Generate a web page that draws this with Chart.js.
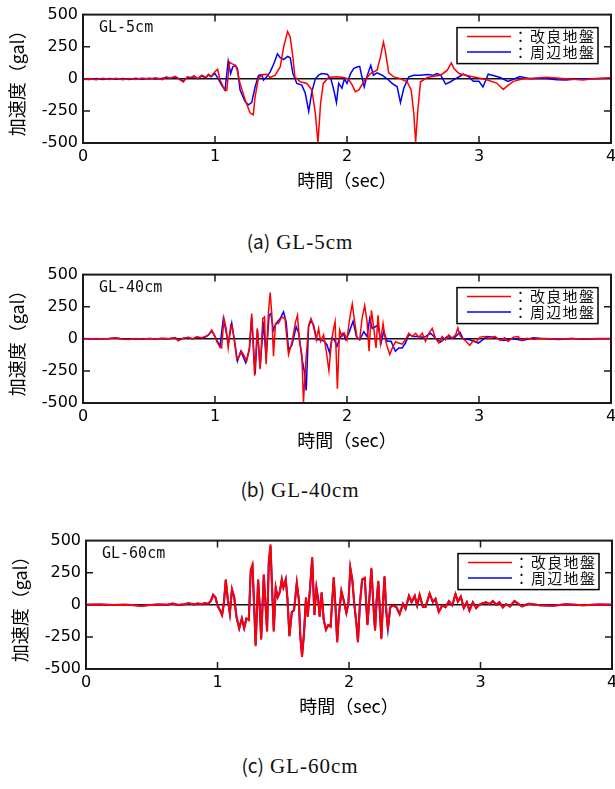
<!DOCTYPE html>
<html>
<head>
<meta charset="utf-8">
<script src="https://cdn.jsdelivr.net/npm/chart.js@4.4.0/dist/chart.umd.min.js"></script>
<style>
body { margin: 0; background: #fff; width: 615px; height: 789px; overflow: hidden; position: relative; }
.box { position: absolute; left: 0; width: 615px; height: 200px; overflow: hidden; }
.box canvas { position: absolute; left: 0; top: 0; }
.cap { position: absolute; left: 0; width: 600px; text-align: center; line-height: 24px;
       font-family: 'Liberation Serif', serif; font-size: 21px; letter-spacing: 1px; color: #111; }
.cap span { font-family: 'Noto Sans CJK JP', sans-serif; font-size: 19px; letter-spacing: 0; margin-right: 6px; }
</style>
</head>
<body>
<div class="box" style="top:0px"><canvas id="c1" width="625" height="200"></canvas></div>
<div class="cap" style="top:229px"><span>(a)</span>GL-5cm</div>
<div class="box" style="top:260px"><canvas id="c2" width="625" height="200"></canvas></div>
<div class="cap" style="top:477px"><span>(b)</span>GL-40cm</div>
<div class="box" style="top:526px"><canvas id="c3" width="625" height="200"></canvas></div>
<div class="cap" style="top:753px"><span>(c)</span>GL-60cm</div>
<script>
// time ticks (sec) and acceleration ticks (gal)
const timeTicks = [0, 1, 2, 3, 4];
const accelTicks = [-500, -250, 0, 250, 500];
const seriesNames = ['改良地盤', '周辺地盤'];
const xTitle = '時間（sec）';
const yTitle = '加速度（gal）';

// [time, acceleration]
const gl5Red = [[0,-5],[0.05,0],[0.1,-8],[0.15,4],[0.2,-6],[0.25,5],[0.3,-8],[0.35,3],[0.4,-5],[0.45,6],[0.5,-4],[0.55,8],[0.6,-6],[0.63,15],[0.66,5],[0.7,20],[0.73,-5],[0.76,-25],[0.79,15],[0.82,10],[0.84,25],[0.87,0],[0.9,28],[0.93,10],[0.95,35],[0.97,20],[1.0,55],[1.02,74],[1.038,-10],[1.076,-92],[1.09,-88],[1.109,130],[1.127,118],[1.152,105],[1.165,80],[1.19,-36],[1.228,-164],[1.266,-267],[1.29,-280],[1.304,-138],[1.33,10],[1.367,33],[1.392,36],[1.418,10],[1.456,28],[1.494,92],[1.52,246],[1.55,369],[1.57,323],[1.59,170],[1.605,15],[1.646,-23],[1.696,-36],[1.734,-87],[1.76,-267],[1.78,-497],[1.8,-190],[1.82,-36],[1.86,10],[1.924,15],[1.975,10],[2.01,0],[2.04,-49],[2.063,-100],[2.09,-87],[2.127,-23],[2.177,41],[2.228,67],[2.253,169],[2.276,285],[2.29,220],[2.316,46],[2.354,15],[2.405,0],[2.456,-23],[2.486,-87],[2.506,-267],[2.52,-492],[2.537,-241],[2.557,-23],[2.608,10],[2.658,20],[2.71,28],[2.76,67],[2.79,123],[2.81,80],[2.848,41],[2.907,26],[2.98,10],[3.058,-8],[3.133,-33],[3.184,-84],[3.21,-59],[3.26,-20],[3.335,0],[3.41,5],[3.51,13],[3.61,5],[3.71,-3],[3.79,-10],[3.86,0],[4.0,8]];
const gl5Blue = [[0,-3],[0.05,-6],[0.1,2],[0.15,-5],[0.2,3],[0.25,-4],[0.3,2],[0.35,-6],[0.4,4],[0.45,-3],[0.5,5],[0.55,-2],[0.6,4],[0.63,10],[0.66,2],[0.7,15],[0.73,0],[0.76,-18],[0.79,10],[0.82,8],[0.84,18],[0.87,2],[0.9,22],[0.93,8],[0.95,30],[0.97,15],[1.0,41],[1.025,0],[1.05,-49],[1.076,-87],[1.1,138],[1.119,41],[1.134,92],[1.154,105],[1.17,80],[1.19,-87],[1.228,-177],[1.253,-203],[1.278,-185],[1.304,-62],[1.33,26],[1.354,33],[1.367,-10],[1.392,15],[1.418,54],[1.448,123],[1.473,195],[1.494,164],[1.52,149],[1.55,174],[1.57,164],[1.59,41],[1.62,-36],[1.658,-49],[1.684,-113],[1.71,-254],[1.734,-100],[1.76,0],[1.785,28],[1.81,41],[1.85,36],[1.878,0],[1.9,-87],[1.92,-185],[1.937,-36],[1.962,-74],[1.98,0],[2.0,-36],[2.025,36],[2.05,80],[2.076,92],[2.096,97],[2.11,28],[2.13,-62],[2.15,15],[2.18,105],[2.2,28],[2.228,46],[2.266,28],[2.304,0],[2.342,-36],[2.38,-62],[2.405,-185],[2.43,-74],[2.468,15],[2.506,28],[2.557,28],[2.608,33],[2.658,28],[2.68,41],[2.71,28],[2.747,-41],[2.785,-23],[2.82,0],[2.856,20],[2.88,36],[2.92,18],[2.957,-20],[3.0,-20],[3.03,-64],[3.07,36],[3.108,26],[3.16,10],[3.22,-20],[3.27,0],[3.31,18],[3.385,0],[3.49,5],[3.59,-8],[3.66,-10],[3.76,0],[3.86,0],[4.0,5]];

const gl40Red = [[0,0],[0.05,-3],[0.1,2],[0.15,-2],[0.2,3],[0.25,8],[0.3,-3],[0.35,-5],[0.4,2],[0.45,-4],[0.5,3],[0.55,-2],[0.6,4],[0.65,0],[0.7,10],[0.72,-15],[0.76,5],[0.8,12],[0.83,-3],[0.86,15],[0.9,8],[0.93,20],[0.95,30],[0.975,69],[1.0,18],[1.013,-20],[1.038,-66],[1.05,-71],[1.068,158],[1.084,81],[1.1,-71],[1.119,107],[1.13,94],[1.147,-20],[1.165,-160],[1.185,-135],[1.2,-97],[1.215,-122],[1.24,-173],[1.26,-71],[1.278,196],[1.3,-288],[1.32,81],[1.342,-237],[1.362,158],[1.375,170],[1.387,-198],[1.405,209],[1.418,361],[1.43,196],[1.443,-135],[1.458,120],[1.48,120],[1.506,170],[1.53,158],[1.557,-122],[1.582,-33],[1.61,132],[1.625,183],[1.64,-20],[1.658,-122],[1.67,-491],[1.69,-148],[1.71,107],[1.727,158],[1.747,94],[1.767,-8],[1.785,81],[1.8,-20],[1.823,31],[1.843,-97],[1.863,-249],[1.88,-46],[1.894,56],[1.91,132],[1.927,-389],[1.944,69],[1.962,18],[1.98,43],[2.0,-8],[2.02,158],[2.04,272],[2.055,158],[2.076,5],[2.096,-8],[2.114,158],[2.134,260],[2.152,132],[2.167,-97],[2.185,221],[2.2,107],[2.22,-71],[2.235,183],[2.253,-33],[2.273,120],[2.29,0],[2.304,-59],[2.324,-122],[2.344,-71],[2.367,-25],[2.392,-33],[2.418,-41],[2.443,-8],[2.468,43],[2.494,18],[2.52,43],[2.544,10],[2.57,43],[2.595,-20],[2.62,43],[2.646,81],[2.67,5],[2.696,-33],[2.72,18],[2.747,-8],[2.77,31],[2.797,5],[2.823,31],[2.84,85],[2.856,25],[2.88,0],[2.907,-25],[2.93,-51],[2.957,-13],[2.98,-25],[3.008,13],[3.045,18],[3.083,0],[3.12,18],[3.16,-13],[3.196,8],[3.22,-20],[3.26,13],[3.297,18],[3.32,-13],[3.36,5],[3.41,-3],[3.5,2],[3.6,-2],[3.7,3],[3.8,-2],[3.9,2],[4.0,0]];
const gl40Blue = [[0,2],[0.05,0],[0.1,-2],[0.15,1],[0.2,2],[0.25,6],[0.3,-2],[0.35,-4],[0.4,1],[0.45,-3],[0.5,2],[0.55,-1],[0.6,3],[0.65,0],[0.7,8],[0.72,-12],[0.76,4],[0.8,10],[0.83,-2],[0.86,12],[0.9,6],[0.93,15],[0.95,28],[0.975,60],[1.0,18],[1.038,-59],[1.063,158],[1.084,56],[1.101,-33],[1.127,120],[1.147,-8],[1.17,-173],[1.195,-97],[1.233,-186],[1.261,-84],[1.278,171],[1.304,-275],[1.322,69],[1.342,-224],[1.367,132],[1.387,-148],[1.41,183],[1.423,196],[1.443,69],[1.463,120],[1.494,158],[1.519,209],[1.539,132],[1.557,-84],[1.582,-51],[1.615,94],[1.635,43],[1.658,-148],[1.676,-249],[1.691,-402],[1.709,94],[1.727,145],[1.747,107],[1.772,-8],[1.797,-8],[1.828,-20],[1.848,-46],[1.868,-109],[1.886,5],[1.904,-8],[1.924,-59],[1.944,5],[1.97,43],[1.992,-8],[2.018,56],[2.046,137],[2.071,18],[2.096,-8],[2.127,56],[2.152,18],[2.172,158],[2.192,81],[2.215,94],[2.235,107],[2.258,-33],[2.278,56],[2.304,-20],[2.334,-20],[2.367,-97],[2.392,-71],[2.418,-71],[2.443,-33],[2.468,31],[2.506,18],[2.544,18],[2.582,10],[2.633,43],[2.671,5],[2.709,-25],[2.759,18],[2.81,5],[2.856,51],[2.88,0],[2.93,-8],[2.995,-33],[3.06,18],[3.11,13],[3.185,-13],[3.26,0],[3.33,-13],[3.41,8],[3.5,0],[3.6,-5],[3.7,2],[3.8,-4],[3.9,0],[4.0,2]];

const gl60Red = [[0,0],[0.1,2],[0.2,-2],[0.3,1],[0.38,-3],[0.42,-10],[0.46,-4],[0.55,2],[0.62,0],[0.66,10],[0.7,-2],[0.75,5],[0.78,12],[0.82,2],[0.85,10],[0.88,4],[0.9,12],[0.93,8],[0.95,30],[0.967,79],[0.985,59],[1.0,-5],[1.018,-43],[1.035,-81],[1.048,8],[1.063,199],[1.078,46],[1.094,-69],[1.11,122],[1.127,59],[1.144,-94],[1.165,-183],[1.185,-107],[1.203,-183],[1.22,-107],[1.238,-120],[1.253,275],[1.266,313],[1.278,8],[1.29,-323],[1.309,199],[1.32,8],[1.332,-272],[1.352,237],[1.365,8],[1.377,-209],[1.39,338],[1.403,471],[1.415,135],[1.428,-209],[1.443,135],[1.458,59],[1.473,97],[1.489,199],[1.501,135],[1.519,199],[1.532,46],[1.547,-247],[1.565,-56],[1.582,-43],[1.603,173],[1.618,46],[1.63,-247],[1.643,-405],[1.658,-221],[1.673,59],[1.686,-94],[1.706,160],[1.72,372],[1.737,-81],[1.752,135],[1.767,33],[1.777,-94],[1.792,97],[1.808,-120],[1.825,-196],[1.843,-158],[1.86,-171],[1.884,216],[1.9,-69],[1.91,-293],[1.922,-94],[1.942,109],[1.96,33],[1.98,-64],[1.995,8],[2.01,293],[2.025,199],[2.04,8],[2.056,-145],[2.068,-293],[2.083,8],[2.1,199],[2.12,211],[2.14,-158],[2.154,33],[2.17,288],[2.185,8],[2.198,-201],[2.21,33],[2.223,186],[2.235,-56],[2.246,-267],[2.258,8],[2.27,224],[2.283,-43],[2.296,-191],[2.314,-18],[2.334,-5],[2.36,-18],[2.385,-74],[2.41,8],[2.43,-31],[2.456,71],[2.476,20],[2.5,71],[2.518,-5],[2.537,79],[2.562,-18],[2.582,-18],[2.613,89],[2.638,20],[2.658,46],[2.683,-56],[2.709,-5],[2.734,-18],[2.76,28],[2.785,-5],[2.81,85],[2.828,25],[2.85,64],[2.873,-25],[2.896,20],[2.916,-46],[2.942,20],[2.967,-25],[2.99,0],[3.018,13],[3.043,20],[3.068,5],[3.094,30],[3.12,0],[3.144,20],[3.17,-20],[3.195,5],[3.225,-13],[3.258,30],[3.28,13],[3.316,-13],[3.347,0],[3.37,8],[3.45,-3],[3.55,-8],[3.65,5],[3.78,-3],[3.9,3],[4.0,0]];
const gl60Blue = [[0,0],[0.1,2],[0.2,-2],[0.3,1],[0.38,-3],[0.42,-10],[0.46,-4],[0.55,2],[0.62,0],[0.66,10],[0.7,-2],[0.75,5],[0.78,12],[0.82,2],[0.85,10],[0.88,4],[0.9,12],[0.93,8],[0.95,30],[0.967,75],[0.985,55],[1.0,-5],[1.018,-40],[1.035,-78],[1.048,8],[1.063,190],[1.078,46],[1.094,-65],[1.11,118],[1.127,59],[1.144,-90],[1.165,-183],[1.185,-107],[1.203,-180],[1.22,-107],[1.238,-115],[1.253,265],[1.266,300],[1.278,8],[1.29,-310],[1.309,190],[1.32,8],[1.332,-262],[1.352,228],[1.365,8],[1.377,-200],[1.39,325],[1.403,455],[1.415,135],[1.428,-200],[1.443,130],[1.458,59],[1.473,97],[1.489,195],[1.501,135],[1.519,195],[1.532,46],[1.547,-240],[1.565,-56],[1.582,-43],[1.603,168],[1.618,46],[1.63,-250],[1.643,-395],[1.658,-221],[1.673,55],[1.686,-90],[1.706,155],[1.72,360],[1.737,-78],[1.752,130],[1.767,33],[1.777,-90],[1.792,95],[1.808,-118],[1.825,-190],[1.843,-158],[1.86,-168],[1.884,208],[1.9,-69],[1.91,-285],[1.922,-94],[1.942,105],[1.96,33],[1.98,-62],[1.995,8],[2.01,283],[2.025,195],[2.04,8],[2.056,-140],[2.068,-285],[2.083,8],[2.1,195],[2.12,205],[2.14,-152],[2.154,33],[2.17,278],[2.185,8],[2.198,-195],[2.21,33],[2.223,180],[2.235,-56],[2.246,-258],[2.258,8],[2.27,216],[2.283,-43],[2.296,-185],[2.314,-18],[2.334,-5],[2.36,-18],[2.385,-70],[2.41,8],[2.43,-31],[2.456,68],[2.476,20],[2.5,68],[2.518,-5],[2.537,76],[2.562,-18],[2.582,-18],[2.613,86],[2.638,20],[2.658,46],[2.683,-54],[2.709,-5],[2.734,-18],[2.76,28],[2.785,-5],[2.81,82],[2.828,25],[2.85,62],[2.873,-25],[2.896,20],[2.916,-44],[2.942,20],[2.967,-25],[2.99,0],[3.018,13],[3.043,20],[3.068,5],[3.094,28],[3.12,0],[3.144,20],[3.17,-20],[3.195,5],[3.225,-13],[3.258,28],[3.28,13],[3.316,-13],[3.347,0],[3.37,8],[3.45,-3],[3.55,-8],[3.65,5],[3.78,-3],[3.9,3],[4.0,0]];

const toXY = pts => pts.map(p => ({ x: p[0], y: p[1] }));

// frame, inward ticks, depth label and boxed legend
const framePlugin = {
  id: 'frame',
  afterDatasetsDraw(chart, args, opts) {
    const { ctx, chartArea: a, scales: { x, y } } = chart;
    ctx.save();
    ctx.strokeStyle = '#1a1a1a';
    ctx.lineWidth = 2;
    ctx.strokeRect(a.left, a.top, a.right - a.left, a.bottom - a.top);
    ctx.lineWidth = 1.5;
    ctx.beginPath();
    timeTicks.slice(1, -1).forEach(v => {
      const px = x.getPixelForValue(v);
      ctx.moveTo(px, a.top); ctx.lineTo(px, a.top + 7);
      ctx.moveTo(px, a.bottom); ctx.lineTo(px, a.bottom - 7);
    });
    accelTicks.slice(1, -1).forEach(v => {
      if (v === 0) return;
      const py = y.getPixelForValue(v);
      ctx.moveTo(a.left, py); ctx.lineTo(a.left + 7, py);
      ctx.moveTo(a.right, py); ctx.lineTo(a.right - 7, py);
    });
    ctx.stroke();

    ctx.fillStyle = '#111';
    ctx.font = '15px "DejaVu Sans Mono"';
    ctx.textAlign = 'left';
    ctx.textBaseline = 'middle';
    ctx.fillText(opts.depth, a.left + 16, a.top + 14);

    const bw = 141, bh = 36;
    const bx = a.right - 13 - bw, by = a.top + 13;
    ctx.fillStyle = '#fff';
    ctx.fillRect(bx, by, bw, bh);
    ctx.strokeStyle = '#000';
    ctx.lineWidth = 1.5;
    ctx.strokeRect(bx, by, bw, bh);
    chart.data.datasets.forEach((ds, i) => {
      const ly = by + 9 + i * 15.5;
      ctx.strokeStyle = ds.borderColor;
      ctx.lineWidth = 1.5;
      ctx.beginPath();
      ctx.moveTo(bx + 10, ly); ctx.lineTo(bx + 54, ly);
      ctx.stroke();
      ctx.fillStyle = '#111';
      ctx.font = '15px "Noto Sans CJK JP"';
      ctx.fillText('：', bx + 56, ly);
      ds.label.split('').forEach((ch, k) => ctx.fillText(ch, bx + 73 + k * 16.3, ly));
    });
    ctx.restore();
  }
};

function makeChart(id, redPts, bluePts, depth, leftW, rightPad, titlePad, lw) {
  new Chart(document.getElementById(id), {
    type: 'line',
    data: {
      datasets: [
        { label: seriesNames[0], data: toXY(redPts), borderColor: '#ff0000', borderWidth: lw, pointRadius: 0, tension: 0 },
        { label: seriesNames[1], data: toXY(bluePts), borderColor: '#0000ff', borderWidth: lw, pointRadius: 0, tension: 0 }
      ]
    },
    options: {
      responsive: false,
      animation: false,
      events: [],
      layout: { padding: { top: 13, right: rightPad, left: 0, bottom: 0 } },
      plugins: { legend: { display: false }, tooltip: { enabled: false }, frame: { depth: depth } },
      scales: {
        x: {
          type: 'linear', min: 0, max: 4,
          afterBuildTicks: s => { s.ticks = timeTicks.map(v => ({ value: v })); },
          afterFit: s => { s.height = 57; },
          ticks: { padding: 4, color: '#000', maxRotation: 0, font: { family: 'DejaVu Sans', size: 16 } },
          grid: { display: false, drawTicks: false },
          border: { display: false },
          title: { display: true, text: xTitle, color: '#000', font: { family: 'Noto Sans CJK JP', size: 18 }, padding: { top: 0, bottom: 9 } }
        },
        y: {
          type: 'linear', min: -500, max: 500,
          afterBuildTicks: s => { s.ticks = accelTicks.map(v => ({ value: v })); },
          afterFit: s => { s.width = leftW; },
          ticks: { padding: 5, color: '#000', font: { family: 'DejaVu Sans', size: 16 } },
          grid: { drawTicks: false, lineWidth: 1.5, color: c => (c.tick && c.tick.value === 0) ? '#111' : 'rgba(0,0,0,0)' },
          border: { display: false },
          title: { display: true, text: yTitle, color: '#000', font: { family: 'Noto Sans CJK JP', size: 18 }, padding: { top: titlePad, bottom: 0 } }
        }
      }
    },
    plugins: [framePlugin]
  });
}

makeChart('c1', gl5Red, gl5Blue, 'GL-5cm', 83, 14, 6, 1.5);
makeChart('c2', gl40Red, gl40Blue, 'GL-40cm', 83, 14, 6, 1.5);
makeChart('c3', gl60Red, gl60Blue, 'GL-60cm', 86, 13, 9, 2);
</script>
</body>
</html>
